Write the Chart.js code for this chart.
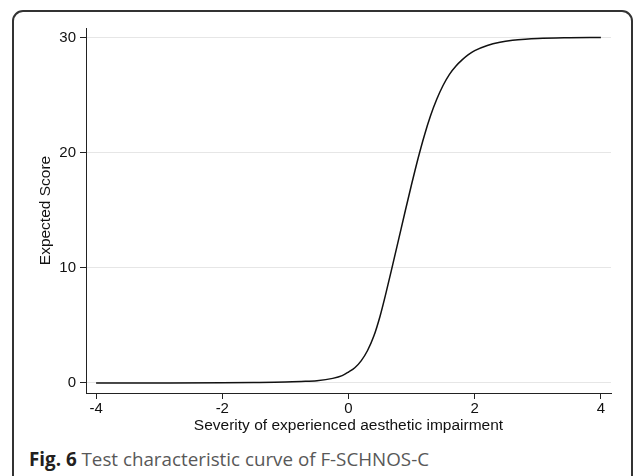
<!DOCTYPE html>
<html>
<head>
<meta charset="utf-8">
<script src="https://cdn.jsdelivr.net/npm/chart.js@4.4.1/dist/chart.umd.min.js"></script>
<style>
  html, body { margin: 0; padding: 0; background: #fff; width: 634px; height: 476px; overflow: hidden; }
  #frame { position: absolute; left: 12px; top: 10px; width: 621px; height: 520px; border: 2px solid #333; border-radius: 11px; box-sizing: border-box; }
  #wrap { position: absolute; left: 0; top: 0; width: 634px; height: 440px; }
  #caption { position: absolute; left: 29px; top: 449px; font-family: "Open Sans", sans-serif; font-size: 18.8px; color: #585858; white-space: nowrap; line-height: 20px; }
  #caption b { color: #231f20; font-weight: 700; }
</style>
</head>
<body>
<div id="frame"></div>
<div id="wrap"><canvas id="c" width="634" height="440"></canvas></div>
<div id="caption"><b>Fig. 6</b> Test characteristic curve of F-SCHNOS-C</div>
<script>
// Data
const theta = [-4, -3, -2, -1.5, -1, -0.75, -0.5, -0.25, -0.1, 0, 0.1, 0.2, 0.3, 0.4, 0.5, 0.6, 0.7, 0.8, 0.9, 1.0, 1.1, 1.2, 1.3, 1.4, 1.5, 1.6, 1.7, 1.8, 1.9, 2.0, 2.2, 2.4, 2.6, 2.8, 3.0, 3.5, 4.0];
const expectedScore = [0.0, 0.005, 0.02, 0.04, 0.08, 0.13, 0.2, 0.4, 0.64, 0.95, 1.32, 1.92, 2.8, 4.05, 5.8, 7.95, 10.25, 12.6, 14.95, 17.25, 19.45, 21.45, 23.2, 24.65, 25.85, 26.8, 27.5, 28.05, 28.5, 28.85, 29.3, 29.58, 29.75, 29.85, 29.91, 29.97, 30.0];
const xTicks = [-4, -2, 0, 2, 4];
const yTicks = [0, 10, 20, 30];
const xTitle = "Severity of experienced aesthetic impairment";
const yTitle = "Expected Score";

const points = theta.map((t, i) => ({ x: t, y: expectedScore[i] }));
const tickFont = { family: "'Liberation Sans', Arial, sans-serif", size: 15 };
const titleFont = { family: "'Liberation Sans', Arial, sans-serif", size: 15.5 };

new Chart(document.getElementById('c'), {
  type: 'line',
  data: {
    datasets: [{
      data: points,
      borderColor: '#111',
      borderWidth: 1.5,
      pointRadius: 0,
      fill: false,
      cubicInterpolationMode: 'monotone'
    }]
  },
  options: {
    responsive: false,
    animation: false,
    events: [],
    layout: { padding: { left: 0, top: 28, right: 23, bottom: 0 } },
    plugins: { legend: { display: false }, tooltip: { enabled: false } },
    scales: {
      x: {
        type: 'linear',
        min: -4.16,
        max: 4.16,
        afterBuildTicks: s => { s.ticks = xTicks.map(v => ({ value: v })); },
        afterFit: s => { s.height = 47; },
        grid: { drawOnChartArea: false, drawTicks: true, tickLength: 6, tickColor: '#222', tickWidth: 1 },
        border: { display: true, color: '#222', width: 1 },
        ticks: { font: tickFont, color: '#111', padding: 1, maxRotation: 0, autoSkip: false, callback: v => String(v) },
        title: { display: true, text: xTitle, font: titleFont, color: '#111', padding: { top: 0, bottom: 5 } }
      },
      y: {
        type: 'linear',
        min: -0.87,
        max: 30.82,
        afterBuildTicks: s => { s.ticks = yTicks.map(v => ({ value: v })); },
        afterFit: s => { s.width = 86; },
        grid: { color: '#e6e6e6', lineWidth: 1, drawTicks: true, tickLength: 6, tickColor: '#222', tickWidth: 1 },
        border: { display: true, color: '#222', width: 1 },
        ticks: { font: tickFont, color: '#111', padding: 4, autoSkip: false, callback: v => String(v) },
        title: { display: true, text: yTitle, font: titleFont, color: '#111', padding: { top: 36, bottom: 0 } }
      }
    }
  }
});
</script>
</body>
</html>
